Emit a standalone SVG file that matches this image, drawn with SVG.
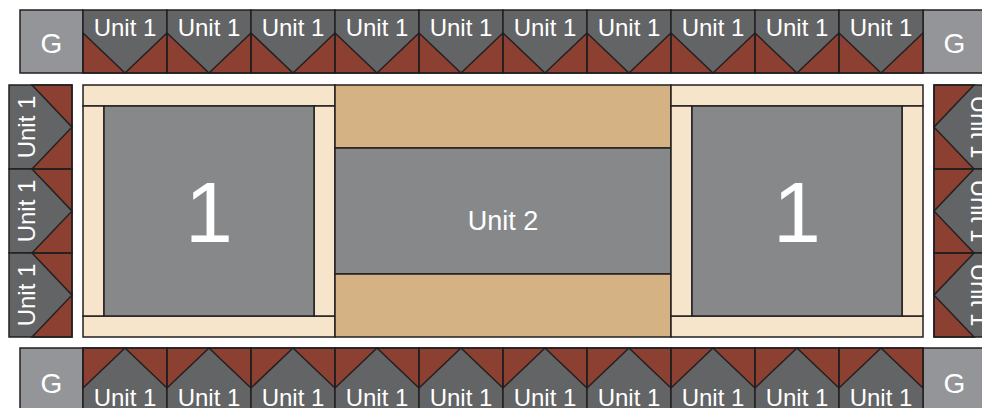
<svg xmlns="http://www.w3.org/2000/svg" xmlns:xlink="http://www.w3.org/1999/xlink" width="982" height="408" viewBox="0 0 982 408">
<style>
.s{stroke:#231f20;stroke-width:1.5;stroke-linejoin:miter}
.dk{fill:#636466}
.rd{fill:#8b4031}
.gb{fill:#939598}
.sq{fill:#87888a}
.cr{fill:#f6e5cb}
.tn{fill:#d4b283}
.t{font-family:"Liberation Sans",Arial,sans-serif;fill:#fff;text-anchor:middle}
.u{font-size:24px}
.g{font-size:28px}
.big{font-size:86px}
.u2{font-size:27px}
</style>
<defs>
<g id="tri">
<polygon class="dk" points="0,0 84,0 84,23 42,63 0,23"/>
<polygon class="rd s" points="0,23 42,63 0,63"/>
<polygon class="rd s" points="84,23 84,63 42,63"/>
<rect class="s" x="0" y="0" width="84" height="63" fill="none"/>
</g>
</defs>
<rect width="982" height="408" fill="#fff"/>

<g id="connectors"></g>

<!-- corner G blocks -->
<g id="g-tl"><rect class="gb s" x="20" y="10" width="63" height="63"/><text class="t g" x="51.5" y="53">G</text></g>
<g id="g-tr"><rect class="gb s" x="923" y="10" width="63" height="63"/><text class="t g" x="954.5" y="53">G</text></g>
<g id="g-bl"><rect class="gb s" x="20" y="348" width="63" height="63"/><text class="t g" x="51.5" y="393">G</text></g>
<g id="g-br"><rect class="gb s" x="923" y="348" width="63" height="63"/><text class="t g" x="954.5" y="393">G</text></g>

<!-- top row -->
<g id="top-1"><use xlink:href="#tri" transform="translate(83,10)"/><text class="t u" x="125" y="36">Unit 1</text></g>
<g id="top-2"><use xlink:href="#tri" transform="translate(167,10)"/><text class="t u" x="209" y="36">Unit 1</text></g>
<g id="top-3"><use xlink:href="#tri" transform="translate(251,10)"/><text class="t u" x="293" y="36">Unit 1</text></g>
<g id="top-4"><use xlink:href="#tri" transform="translate(335,10)"/><text class="t u" x="377" y="36">Unit 1</text></g>
<g id="top-5"><use xlink:href="#tri" transform="translate(419,10)"/><text class="t u" x="461" y="36">Unit 1</text></g>
<g id="top-6"><use xlink:href="#tri" transform="translate(503,10)"/><text class="t u" x="545" y="36">Unit 1</text></g>
<g id="top-7"><use xlink:href="#tri" transform="translate(587,10)"/><text class="t u" x="629" y="36">Unit 1</text></g>
<g id="top-8"><use xlink:href="#tri" transform="translate(671,10)"/><text class="t u" x="713" y="36">Unit 1</text></g>
<g id="top-9"><use xlink:href="#tri" transform="translate(755,10)"/><text class="t u" x="797" y="36">Unit 1</text></g>
<g id="top-10"><use xlink:href="#tri" transform="translate(839,10)"/><text class="t u" x="881" y="36">Unit 1</text></g>

<!-- bottom row -->
<g id="bot-1"><use xlink:href="#tri" transform="translate(83,411) scale(1,-1)"/><text class="t u" x="125" y="406">Unit 1</text></g>
<g id="bot-2"><use xlink:href="#tri" transform="translate(167,411) scale(1,-1)"/><text class="t u" x="209" y="406">Unit 1</text></g>
<g id="bot-3"><use xlink:href="#tri" transform="translate(251,411) scale(1,-1)"/><text class="t u" x="293" y="406">Unit 1</text></g>
<g id="bot-4"><use xlink:href="#tri" transform="translate(335,411) scale(1,-1)"/><text class="t u" x="377" y="406">Unit 1</text></g>
<g id="bot-5"><use xlink:href="#tri" transform="translate(419,411) scale(1,-1)"/><text class="t u" x="461" y="406">Unit 1</text></g>
<g id="bot-6"><use xlink:href="#tri" transform="translate(503,411) scale(1,-1)"/><text class="t u" x="545" y="406">Unit 1</text></g>
<g id="bot-7"><use xlink:href="#tri" transform="translate(587,411) scale(1,-1)"/><text class="t u" x="629" y="406">Unit 1</text></g>
<g id="bot-8"><use xlink:href="#tri" transform="translate(671,411) scale(1,-1)"/><text class="t u" x="713" y="406">Unit 1</text></g>
<g id="bot-9"><use xlink:href="#tri" transform="translate(755,411) scale(1,-1)"/><text class="t u" x="797" y="406">Unit 1</text></g>
<g id="bot-10"><use xlink:href="#tri" transform="translate(839,411) scale(1,-1)"/><text class="t u" x="881" y="406">Unit 1</text></g>

<!-- left column -->
<g id="left-1" transform="translate(9,169) rotate(-90)"><use xlink:href="#tri"/><text class="t u" x="42" y="26">Unit 1</text></g>
<g id="left-2" transform="translate(9,253) rotate(-90)"><use xlink:href="#tri"/><text class="t u" x="42" y="26">Unit 1</text></g>
<g id="left-3" transform="translate(9,337) rotate(-90)"><use xlink:href="#tri"/><text class="t u" x="42" y="26">Unit 1</text></g>

<!-- right column -->
<g id="right-1" transform="translate(997,85) rotate(90)"><use xlink:href="#tri"/><text class="t u" x="42" y="26">Unit 1</text></g>
<g id="right-2" transform="translate(997,169) rotate(90)"><use xlink:href="#tri"/><text class="t u" x="42" y="26">Unit 1</text></g>
<g id="right-3" transform="translate(997,253) rotate(90)"><use xlink:href="#tri"/><text class="t u" x="42" y="26">Unit 1</text></g>

<!-- left framed block -->
<g id="block-left">
<rect class="cr s" x="83" y="85" width="252" height="21"/>
<rect class="cr s" x="83" y="316" width="252" height="21"/>
<rect class="cr s" x="83" y="106" width="21" height="210"/>
<rect class="cr s" x="314" y="106" width="21" height="210"/>
<rect class="sq s" x="104" y="106" width="210" height="210"/>
<text class="t big" x="209" y="242">1</text>
</g>

<!-- center block -->
<g id="block-center">
<rect class="tn s" x="335" y="85" width="336" height="63"/>
<rect class="sq s" x="335" y="148" width="336" height="126"/>
<rect class="tn s" x="335" y="274" width="336" height="63"/>
<text class="t u2" x="503" y="230">Unit 2</text>
</g>

<!-- right framed block -->
<g id="block-right">
<rect class="cr s" x="671" y="85" width="252" height="21"/>
<rect class="cr s" x="671" y="316" width="252" height="21"/>
<rect class="cr s" x="671" y="106" width="21" height="210"/>
<rect class="cr s" x="902" y="106" width="21" height="210"/>
<rect class="sq s" x="692" y="106" width="210" height="210"/>
<text class="t big" x="797" y="242">1</text>
</g>
</svg>
